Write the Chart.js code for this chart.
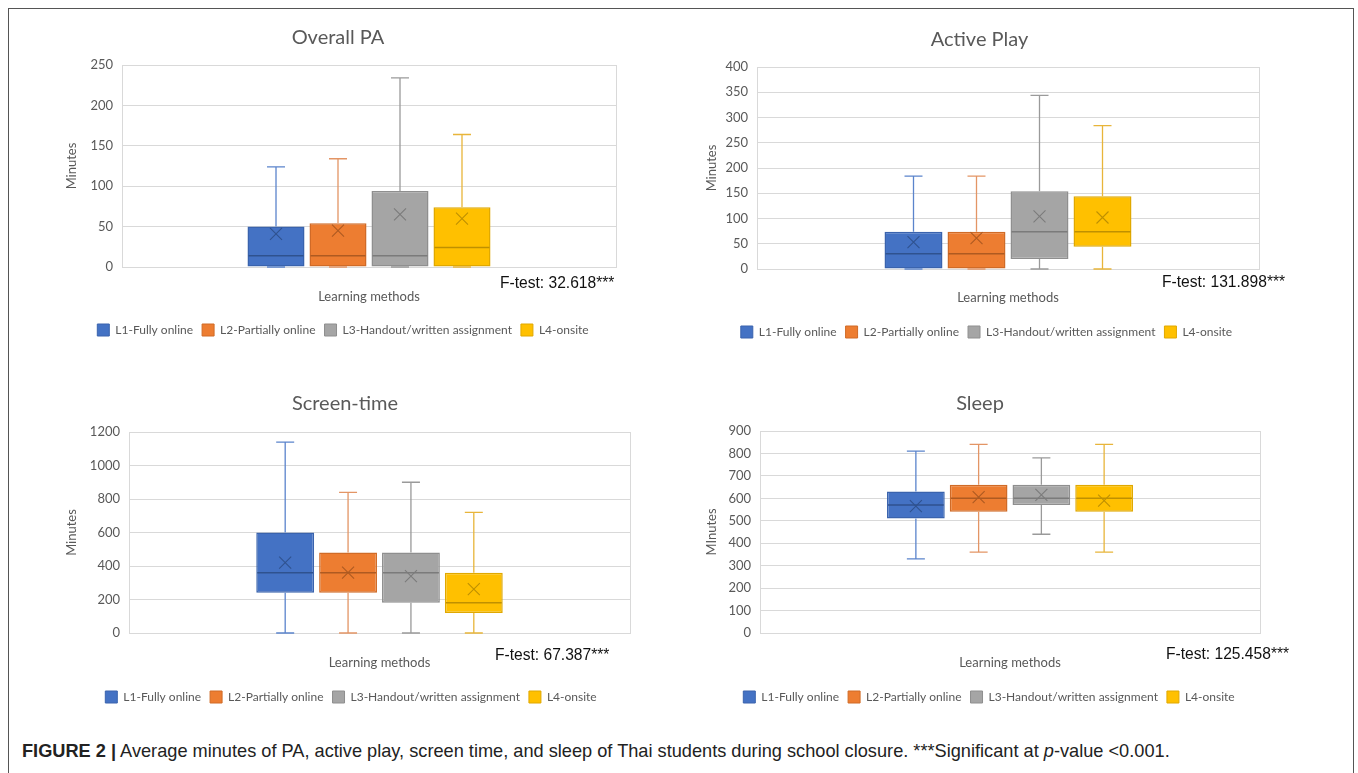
<!DOCTYPE html>
<html>
<head>
<meta charset="utf-8">
<script src="https://cdn.jsdelivr.net/npm/chart.js@4.4.1/dist/chart.umd.min.js"></script>
<style>
  html, body { margin:0; padding:0; background:#fff; }
  body { width:1358px; height:773px; position:relative; overflow:hidden; font-family: Lato, "Open Sans", sans-serif; }
  #frame { position:absolute; left:8px; top:8px; width:1346px; height:780px; border:1.5px solid #555; border-bottom:none; box-sizing:border-box; }
  .cbox { position:absolute; }
  .ftest { position:absolute; font-family:"Liberation Sans", Arial, sans-serif; font-size:15.6px; color:#111; white-space:nowrap; }
  #caption { position:absolute; left:22px; top:741px; font-family:"Liberation Sans Narrow", "Liberation Sans", Arial, sans-serif; font-size:18.2px; color:#222; white-space:nowrap; }
  #caption b { font-weight:bold; }
</style>
</head>
<body>
<div id="frame"></div>
<div class="cbox" style="left:60px;top:18px;width:566px;height:328px;"><canvas id="c1"></canvas></div>
<div class="cbox" style="left:700px;top:18px;width:572px;height:330px;"><canvas id="c2"></canvas></div>
<div class="cbox" style="left:60px;top:383px;width:580px;height:330px;"><canvas id="c3"></canvas></div>
<div class="cbox" style="left:700px;top:383px;width:578px;height:330px;"><canvas id="c4"></canvas></div>
<div class="ftest" style="left:500px;top:274px;">F-test: 32.618***</div>
<div class="ftest" style="left:1162px;top:273px;">F-test: 131.898***</div>
<div class="ftest" style="left:495px;top:646px;">F-test: 67.387***</div>
<div class="ftest" style="left:1166px;top:645px;">F-test: 125.458***</div>
<div id="caption"><b>FIGURE 2 |</b> Average minutes of PA, active play, screen time, and sleep of Thai students during school closure. ***Significant at <i>p</i>-value &lt;0.001.</div>
<script>
// ---- data ----
const categories = ['L1-Fully online', 'L2-Partially online', 'L3-Handout/written assignment', 'L4-onsite'];
const xLabels = [''];

const overallMin = [0, 0, 0, 0];
const overallQ1 = [0, 0, 0, 0];
const overallMedian = [14, 14, 14, 24];
const overallQ3 = [50, 54, 94, 74];
const overallMax = [124, 134, 234, 164];
const overallMean = [41, 45, 65, 60];

const activeMin = [0, 0, 0, 0];
const activeQ1 = [0, 0, 20, 44];
const activeMedian = [30, 30, 74, 74];
const activeQ3 = [74, 74, 154, 144];
const activeMax = [184, 184, 344, 284];
const activeMean = [53, 61, 104, 102];

const screenMin = [0, 0, 0, 0];
const screenQ1 = [240, 240, 180, 120];
const screenMedian = [360, 360, 360, 180];
const screenQ3 = [600, 480, 480, 360];
const screenMax = [1140, 840, 900, 720];
const screenMean = [420, 360, 340, 262];

const sleepMin = [330, 360, 440, 360];
const sleepQ1 = [510, 540, 570, 540];
const sleepMedian = [570, 600, 600, 600];
const sleepQ3 = [630, 660, 660, 660];
const sleepMax = [810, 840, 780, 840];
const sleepMean = [565, 605, 615, 590];

const yTicksOverall = [0, 50, 100, 150, 200, 250];
const yTicksActive = [0, 50, 100, 150, 200, 250, 300, 350, 400];
const yTicksScreen = [0, 200, 400, 600, 800, 1000, 1200];
const yTicksSleep = [0, 100, 200, 300, 400, 500, 600, 700, 800, 900];

// ---- styles ----
const fills = ['#4472C4', '#ED7D31', '#A5A5A5', '#FFC000'];
const edges = ['#3A63AD', '#D06B27', '#8F8F8F', '#E0A800'];
const darks = ['#2F528F', '#AE5A21', '#7B7B7B', '#BF9000'];
const whisk = ['#5B84CC', '#E39565', '#9A9A9A', '#E8B53A'];
const textGray = '#595959';
const gridGray = '#D9D9D9';
const FONT = 'Lato, "Open Sans", sans-serif';

const boxPlugin = {
  id: 'boxWhisker',
  afterDatasetsDraw(chart) {
    const st = chart.options.plugins.boxWhisker;
    const y = chart.scales.y;
    const ctx = chart.ctx;
    ctx.save();
    chart.data.datasets.forEach((ds, i) => {
      const el = chart.getDatasetMeta(i).data[0];
      if (!el) return;
      const x = el.x, w = el.width;
      const yMax = y.getPixelForValue(st.max[i]);
      const yMin = y.getPixelForValue(st.min[i]);
      const yQ1 = y.getPixelForValue(st.q1[i]);
      const yQ3 = y.getPixelForValue(st.q3[i]);
      const yMed = y.getPixelForValue(st.median[i]);
      const yMean = y.getPixelForValue(st.mean[i]);
      const cap = 9;
      ctx.strokeStyle = whisk[i];
      ctx.lineWidth = 1.3;
      ctx.beginPath();
      ctx.moveTo(x, yQ3); ctx.lineTo(x, yMax);
      ctx.moveTo(x - cap, yMax); ctx.lineTo(x + cap, yMax);
      ctx.moveTo(x, yQ1); ctx.lineTo(x, yMin);
      ctx.moveTo(x - cap, yMin); ctx.lineTo(x + cap, yMin);
      ctx.stroke();
      ctx.strokeStyle = darks[i];
      ctx.lineWidth = 1.5;
      ctx.beginPath();
      ctx.moveTo(x - w / 2 + 1, yMed); ctx.lineTo(x + w / 2 - 1, yMed);
      ctx.stroke();
      const m = 6;
      ctx.lineWidth = 1.1;
      ctx.beginPath();
      ctx.moveTo(x - m, yMean - m); ctx.lineTo(x + m, yMean + m);
      ctx.moveTo(x + m, yMean - m); ctx.lineTo(x - m, yMean + m);
      ctx.stroke();
    });
    ctx.restore();
  }
};

// shift the legend horizontally after layout
const legendShiftPlugin = {
  id: 'legendShift',
  afterLayout(chart) {
    const dx = chart.options.plugins.legendShift.dx || 0;
    if (chart.legend) { chart.legend.left += dx; chart.legend.right += dx; }
  }
};

function makeChart(id, title, yTitle, stats, ticks, L) {
  const datasets = categories.map((c, i) => ({
    label: c,
    data: [[stats.q1[i], stats.q3[i]]],
    backgroundColor: fills[i],
    borderColor: edges[i],
    borderWidth: 1.5,
    borderSkipped: false,
    categoryPercentage: 0.502,
    barPercentage: 0.92
  }));
  return new Chart(document.getElementById(id), {
    type: 'bar',
    data: { labels: xLabels, datasets },
    plugins: [boxPlugin, legendShiftPlugin],
    options: {
      responsive: true,
      maintainAspectRatio: false,
      animation: false,
      layout: { padding: { left: 0, right: L.padRight, top: 0, bottom: 0 } },
      plugins: {
        boxWhisker: stats,
        legendShift: { dx: L.legendDx },
        tooltip: { enabled: false },
        title: {
          display: true, text: title, color: textGray,
          font: { family: FONT, size: 20, weight: 'normal' },
          padding: L.titlePad
        },
        legend: {
          position: 'bottom',
          labels: {
            boxWidth: 12, boxHeight: 12, color: textGray, padding: 9,
            font: { family: FONT, size: 12 },
            generateLabels(ch) {
              return ch.data.datasets.map((d, i) => ({
                text: d.label, fillStyle: fills[i], strokeStyle: edges[i],
                lineWidth: 1, datasetIndex: i, hidden: false, fontColor: textGray
              }));
            }
          }
        }
      },
      scales: {
        x: {
          offset: true,
          grid: { display: true, offset: true, color: gridGray, drawTicks: false },
          border: { display: true, color: gridGray },
          ticks: { display: false },
          title: { display: true, text: 'Learning methods', color: textGray,
                   font: { family: FONT, size: 13 }, padding: { top: 0, bottom: L.xTitlePad } },
          afterFit(s) { s.height = L.xHeight; }
        },
        y: {
          min: ticks[0], max: ticks[ticks.length - 1],
          afterBuildTicks(s) { s.ticks = ticks.map(v => ({ value: v })); },
          grid: { color: gridGray, drawTicks: false, lineWidth: 1 },
          border: { display: true, color: gridGray },
          ticks: { color: textGray, font: { family: FONT, size: 13 }, padding: 9,
                   callback: v => String(v) },
          title: { display: true, text: yTitle, color: textGray,
                   font: { family: FONT, size: 13 }, padding: { top: 4, bottom: 0 } },
          afterFit(s) { s.width = L.yWidth; }
        }
      }
    }
  });
}

makeChart('c1', 'Overall PA', 'Minutes',
  { min: overallMin, q1: overallQ1, median: overallMedian, q3: overallQ3, max: overallMax, mean: overallMean },
  yTicksOverall, { yWidth: 62, padRight: 10, xHeight: 48, xTitlePad: 10, legendDx: 5, titlePad: { top: 8, bottom: 15 } });
makeChart('c2', 'Active Play', 'Minutes',
  { min: activeMin, q1: activeQ1, median: activeMedian, q3: activeQ3, max: activeMax, mean: activeMean },
  yTicksActive, { yWidth: 57, padRight: 13, xHeight: 48, xTitlePad: 11, legendDx: 7, titlePad: { top: 10, bottom: 15 } });
makeChart('c3', 'Screen-time', 'Minutes',
  { min: screenMin, q1: screenQ1, median: screenMedian, q3: screenQ3, max: screenMax, mean: screenMean },
  yTicksScreen, { yWidth: 69, padRight: 10, xHeight: 49, xTitlePad: 11, legendDx: 6, titlePad: { top: 9, bottom: 16 } });
makeChart('c4', 'Sleep', 'MInutes',
  { min: sleepMin, q1: sleepQ1, median: sleepMedian, q3: sleepQ3, max: sleepMax, mean: sleepMean },
  yTicksSleep, { yWidth: 60, padRight: 18, xHeight: 49, xTitlePad: 11, legendDx: 9, titlePad: { top: 9, bottom: 15 } });
</script>
</body>
</html>
